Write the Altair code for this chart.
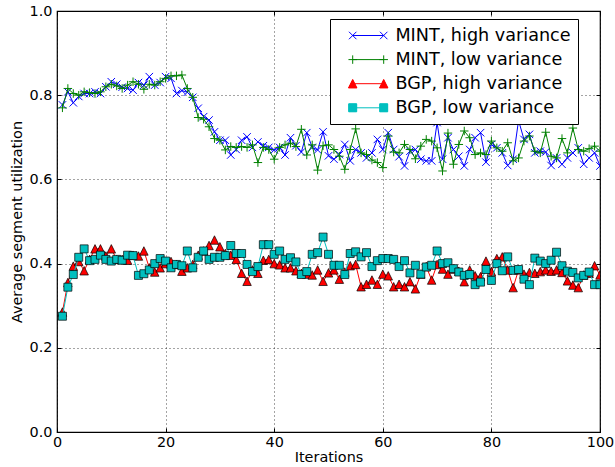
import altair as alt
import pandas as pd

# ---------------- data ----------------
iterations = list(range(1, 101))

mint_high = [
    0.777, 0.808, 0.782, 0.797, 0.804, 0.804, 0.808, 0.804, 0.820, 0.832,
    0.826, 0.819, 0.816, 0.812, 0.830, 0.824, 0.844, 0.824, 0.830, 0.844,
    0.840, 0.804, 0.811, 0.807, 0.795, 0.769, 0.749, 0.741, 0.713, 0.693,
    0.693, 0.658, 0.671, 0.693, 0.701, 0.676, 0.689, 0.680, 0.676, 0.670,
    0.676, 0.658, 0.699, 0.680, 0.665, 0.711, 0.676, 0.670, 0.713, 0.656,
    0.648, 0.659, 0.683, 0.644, 0.671, 0.663, 0.651, 0.663, 0.695, 0.671,
    0.711, 0.671, 0.654, 0.632, 0.667, 0.671, 0.648, 0.644, 0.644, 0.735,
    0.648, 0.699, 0.671, 0.655, 0.632, 0.671, 0.699, 0.711, 0.641, 0.683,
    0.675, 0.663, 0.633, 0.648, 0.740, 0.695, 0.707, 0.663, 0.667, 0.665,
    0.633, 0.651, 0.636, 0.651, 0.663, 0.675, 0.636, 0.651, 0.663, 0.632,
]

mint_low = [
    0.770, 0.816, 0.804, 0.800, 0.808, 0.806, 0.804, 0.808, 0.820, 0.826,
    0.822, 0.816, 0.824, 0.832, 0.826, 0.814, 0.826, 0.824, 0.832, 0.840,
    0.846, 0.846, 0.848, 0.816, 0.795, 0.747, 0.743, 0.725, 0.697, 0.693,
    0.670, 0.678, 0.676, 0.678, 0.676, 0.682, 0.640, 0.676, 0.671, 0.648,
    0.676, 0.682, 0.686, 0.678, 0.719, 0.658, 0.682, 0.622, 0.680, 0.682,
    0.671, 0.655, 0.624, 0.671, 0.720, 0.663, 0.659, 0.646, 0.640, 0.628,
    0.703, 0.665, 0.663, 0.683, 0.671, 0.649, 0.679, 0.695, 0.691, 0.675,
    0.620, 0.710, 0.636, 0.683, 0.715, 0.699, 0.659, 0.663, 0.659, 0.691,
    0.675, 0.667, 0.687, 0.644, 0.651, 0.691, 0.703, 0.667, 0.663, 0.712,
    0.655, 0.651, 0.697, 0.663, 0.722, 0.671, 0.667, 0.673, 0.679, 0.667,
]

bgp_high = [
    0.285, 0.355, 0.394, 0.405, 0.383, 0.410, 0.435, 0.435, 0.418, 0.435,
    0.410, 0.410, 0.408, 0.420, 0.418, 0.430, 0.390, 0.380, 0.390, 0.400,
    0.405, 0.398, 0.382, 0.390, 0.398, 0.420, 0.430, 0.443, 0.456, 0.440,
    0.424, 0.420, 0.410, 0.377, 0.358, 0.385, 0.377, 0.408, 0.410, 0.400,
    0.397, 0.390, 0.390, 0.383, 0.377, 0.375, 0.373, 0.385, 0.358, 0.378,
    0.385, 0.363, 0.380, 0.395, 0.398, 0.345, 0.351, 0.361, 0.351, 0.375,
    0.371, 0.345, 0.351, 0.345, 0.357, 0.340, 0.375, 0.393, 0.361, 0.398,
    0.387, 0.375, 0.387, 0.382, 0.357, 0.385, 0.371, 0.369, 0.406, 0.381,
    0.412, 0.416, 0.385, 0.343, 0.385, 0.375, 0.379, 0.377, 0.381, 0.385,
    0.382, 0.385, 0.379, 0.359, 0.349, 0.343, 0.373, 0.377, 0.395, 0.373,
]

bgp_low = [
    0.275, 0.344, 0.374, 0.415, 0.435, 0.407, 0.410, 0.420, 0.410, 0.406,
    0.410, 0.408, 0.420, 0.419, 0.372, 0.376, 0.385, 0.400, 0.412, 0.406,
    0.390, 0.398, 0.395, 0.430, 0.390, 0.415, 0.430, 0.410, 0.415, 0.415,
    0.419, 0.443, 0.424, 0.424, 0.398, 0.381, 0.393, 0.445, 0.445, 0.422,
    0.430, 0.410, 0.414, 0.404, 0.374, 0.381, 0.422, 0.426, 0.463, 0.422,
    0.396, 0.396, 0.374, 0.424, 0.428, 0.416, 0.426, 0.393, 0.407, 0.412,
    0.412, 0.410, 0.393, 0.407, 0.378, 0.396, 0.375, 0.392, 0.396, 0.430,
    0.400, 0.402, 0.388, 0.380, 0.372, 0.374, 0.350, 0.356, 0.386, 0.360,
    0.400, 0.383, 0.416, 0.384, 0.386, 0.363, 0.350, 0.413, 0.406, 0.400,
    0.408, 0.427, 0.395, 0.382, 0.379, 0.366, 0.372, 0.380, 0.350, 0.350,
]

series_names = ["MINT, high variance", "MINT, low variance",
                "BGP, high variance", "BGP, low variance"]
series_values = [mint_high, mint_low, bgp_high, bgp_low]
series_colors = ["#0000ff", "#008000", "#ff0000", "#00bfbf"]

x_ticks = [0, 20, 40, 60, 80, 100]
y_ticks = [0.0, 0.2, 0.4, 0.6, 0.8, 1.0]

rows = []
for name, vals in zip(series_names, series_values):
    for it, v in zip(iterations, vals):
        rows.append({"iteration": it, "value": v, "series": name})
df = pd.DataFrame(rows)

# ---------------- styles ----------------
FONT = "DejaVu Sans"
TICK_FS = 14.4
LEG_FS = 17.6

# marker outlines in unit coordinates (lists of subpaths, closed flag)
marker_geom = {
    "x": ([[(-1, -1), (1, 1)], [(-1, 1), (1, -1)]], False),
    "plus": ([[(-1, 0), (1, 0)], [(0, -1), (0, 1)]], False),
    "tri": ([[(0, -1), (1, 1), (-1, 1)]], True),
    "sq": ([[(-1, -1), (1, -1), (1, 1), (-1, 1)]], True),
}


def path_str(kind, scale=1.0, dx=0.0):
    subs, closed = marker_geom[kind]
    out = []
    for sub in subs:
        pts = ["%.3f,%.3f" % (px * scale + dx, py * scale) for px, py in sub]
        s = "M" + "L".join(pts)
        if closed:
            s += "Z"
        out.append(s)
    return "".join(out)


marker_kind = ["x", "plus", "tri", "sq"]
marker_size = [56, 72, 72, 64]
marker_fill = ["transparent", "transparent", "#ff0000", "#00bfbf"]
marker_stroke = ["#0000ff", "#008000", "black", "black"]
marker_sw = [1, 1, 0.7, 0.7]
edged = [False, False, True, True]

# legend symbols: line with a marker at each end
LEG_UNIT = LEG_FS / 2          # px per path unit (symbol size = LEG_FS^2)
LEG_HALF = 15.5 / LEG_UNIT     # half line length in path units
leg_paths = []
leg_edge_paths = []
for k, sz, e in zip(marker_kind, marker_size, edged):
    r = (sz ** 0.5) / 2 / LEG_UNIT
    ends = path_str(k, r, -LEG_HALF) + path_str(k, r, LEG_HALF)
    leg_paths.append("M%.3f,0L%.3f,0" % (-LEG_HALF, LEG_HALF) + ends)
    leg_edge_paths.append(ends if e else "M0,0")
leg_fill = ["transparent", "transparent", "#ff0000", "#00bfbf"]

x_scale = alt.Scale(domain=[0, 100], nice=False, zero=False)
y_scale = alt.Scale(domain=[0, 1], nice=False, zero=True)

grid_kw = dict(grid=True, gridColor="black", gridDash=[1, 3], gridWidth=0.8,
               gridOpacity=0.9)
tick_kw = dict(ticks=True, tickSize=4, tickColor="black", tickWidth=1,
               offset=-4, domain=False)
lab_kw = dict(labelFont=FONT, labelFontSize=TICK_FS, labelColor="black",
              titleFont=FONT, titleFontSize=TICK_FS, titleFontWeight="normal",
              titleColor="black")

bottom_axis = alt.Axis(orient="bottom", values=x_ticks, format="d",
                       title="Iterations", labelPadding=3, titlePadding=2,
                       labelFlush=False, labelOverlap=False,
                       **grid_kw, **tick_kw, **lab_kw)
left_axis = alt.Axis(orient="left", values=y_ticks, format=".1f",
                     title="Average segment utilization", labelPadding=5,
                     titlePadding=5, labelFlush=False, labelOverlap=False,
                     **grid_kw, **tick_kw, **lab_kw)
top_axis = alt.Axis(orient="top", values=x_ticks, labels=False, title="",
                    grid=False, **tick_kw)
right_axis = alt.Axis(orient="right", values=y_ticks, labels=False, title="",
                      grid=False, **tick_kw)

base = alt.Chart(df)

layers = []
for i, name in enumerate(series_names):
    sub = base.transform_filter(alt.datum.series == name)
    line = sub.mark_line(strokeWidth=1, clip=True).encode(
        x=alt.X("iteration:Q", scale=x_scale,
                axis=bottom_axis if i == 0 else None),
        y=alt.Y("value:Q", scale=y_scale,
                axis=left_axis if i == 0 else None),
        color=alt.value(series_colors[i]),
        order=alt.Order("iteration:Q"),
    )
    pts = sub.mark_point(
        shape=path_str(marker_kind[i]), size=marker_size[i], opacity=1,
        filled=False, clip=True,
    ).encode(
        x=alt.X("iteration:Q", scale=x_scale, axis=None),
        y=alt.Y("value:Q", scale=y_scale, axis=None),
        fill=alt.value(marker_fill[i]),
        stroke=alt.value(marker_stroke[i]),
        strokeWidth=alt.value(marker_sw[i]),
    )
    layers += [line, pts]

legend_common = dict(
    title=None, orient="none", legendX=273, legendY=8, direction="vertical",
    padding=7, labelFont=FONT, labelFontSize=LEG_FS,
    symbolSize=LEG_FS * LEG_FS, symbolOpacity=1,
    symbolOffset=21.7, labelOffset=17.7, rowPadding=5.1,
    labelExpr="datum.label + '\u2002\u2009'", labelLimit=400,
)
legend_main = alt.Legend(
    fillColor="white", strokeColor="black", cornerRadius=0,
    labelColor="black", symbolStrokeWidth=1, zindex=1, **legend_common
)
legend_edges = alt.Legend(
    labelOpacity=0, symbolStrokeWidth=0.7, symbolStrokeColor="black",
    zindex=2, **legend_common
)

guide_layer = base.transform_filter("false").mark_point(
    filled=False, opacity=1
).encode(
    x=alt.X("iteration:Q", scale=x_scale, axis=top_axis),
    y=alt.Y("value:Q", scale=y_scale, axis=right_axis),
    stroke=alt.Stroke("series:N",
                      scale=alt.Scale(domain=series_names,
                                      range=series_colors),
                      legend=legend_main),
    fill=alt.Fill("series:N",
                  scale=alt.Scale(domain=series_names, range=leg_fill),
                  legend=legend_main),
    shape=alt.Shape("series:N",
                    scale=alt.Scale(domain=series_names, range=leg_paths),
                    legend=legend_main),
)
edge_layer = base.transform_filter("false").mark_point(
    filled=False, opacity=1
).encode(
    x=alt.X("iteration:Q", scale=x_scale, axis=None),
    y=alt.Y("value:Q", scale=y_scale, axis=None),
    stroke=alt.value("black"),
    fill=alt.Fill("series:N",
                  scale=alt.Scale(domain=series_names, range=leg_fill),
                  legend=legend_edges),
    shape=alt.Shape("series:N",
                    scale=alt.Scale(domain=series_names,
                                    range=leg_edge_paths),
                    legend=legend_edges),
)
layers += [guide_layer, edge_layer]

chart = alt.layer(*layers).resolve_axis(
    x="independent", y="independent"
).resolve_scale(
    fill="independent", shape="independent", stroke="independent"
).properties(
    width=543, height=421,
    padding={"left": 57, "top": 11, "right": 15, "bottom": 35},
    autosize=alt.AutoSizeParams(type="none"),
    background="white",
).configure_view(stroke="black", strokeWidth=1.2)

chart.save("out.html", embed_options={"renderer": "svg", "actions": False})
